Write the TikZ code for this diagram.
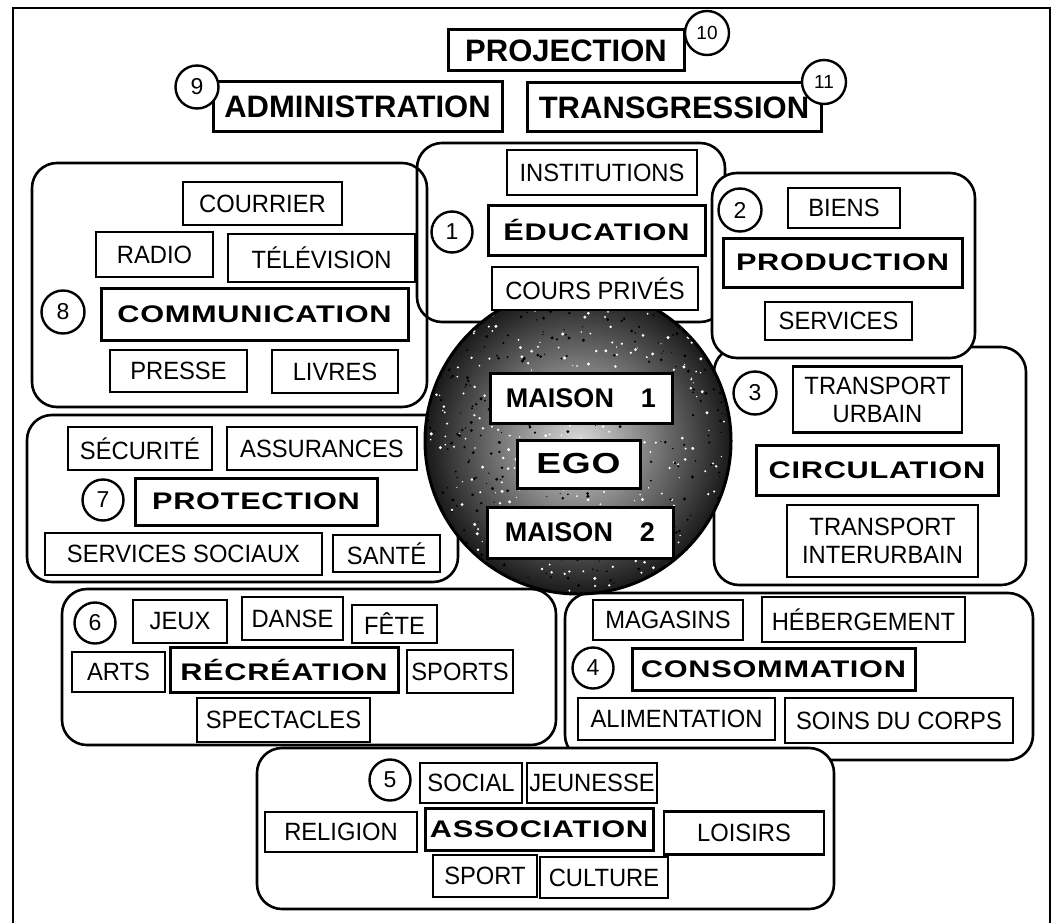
\documentclass[tikz,border=0pt]{standalone}
\usepackage{fontspec}
\setmainfont{Liberation Sans}
\newfontfamily\wide[FakeStretch=1.28, LetterSpace=3]{Liberation Sans}
\newfontfamily\narrow[FakeStretch=0.95]{Liberation Sans}
\usetikzlibrary{positioning}

\begin{document}
\begin{tikzpicture}[x=1pt, y=-1pt,
  zone/.style={draw, line width=2.6pt, rounded corners=25pt},
  lab/.style={draw, line width=2.6pt, fill=white, inner sep=0pt, align=center,
              font=\narrow\fontsize{25}{28}\selectfont},
  ttl/.style={lab, line width=3pt, font=\wide\bfseries\fontsize{24}{24}\selectfont},
  big/.style={lab, line width=3pt, font=\bfseries\fontsize{31}{31}\selectfont},
  house/.style={lab, line width=3pt, font=\bfseries\fontsize{27}{27}\selectfont},
  num/.style={circle, draw, fill=white, line width=2.4pt, inner sep=0pt,
              minimum size=41, font=\fontsize{23}{23}\selectfont},
]
\useasboundingbox (0,0) rectangle (1054,923);
\draw[line width=2.4pt] (13,923) -- (13,8) -- (1050,8) -- (1050,923);

% zones
\draw[zone] (417,143) rectangle (725,322);
\draw[zone] (32,163) rectangle (427,407);
\draw[zone] (27,415) rectangle (458,582);
\draw[zone] (714,347) rectangle (1026,585);
\draw[zone, fill=white] (712,173) rectangle (975,358);
\draw[zone] (62,589) rectangle (556,745);
\draw[zone] (565,593) rectangle (1033,760);
\draw[zone, fill=white] (257,748) rectangle (834,909);

% ego
\shade[inner color=gray!30, outer color=black!90] (578,441) circle (153);
\begin{scope}
  \clip (578,441) circle (153);
  \pgfmathsetseed{42}
  \foreach \i in {1,...,350}
    \fill[white] ({578+150*rand},{441+150*rand}) circle ({0.6+1.1*rnd});
  \foreach \i in {1,...,350}
    \fill[black] ({578+150*rand},{441+150*rand}) circle ({0.6+1.1*rnd});
\end{scope}
\draw[line width=3pt] (578,441) circle (153);
\node[house, minimum width=182, minimum height=50] (m1) at (581,398) {MAISON\hspace{1em}1};
\node[lab, line width=3pt, font=\wide\bfseries\fontsize{29}{29}\selectfont,
      minimum width=123, minimum height=48] (ego) at (578.5,464) {EGO};
\node[house, minimum width=186, minimum height=51] (m2) at (580,532.5) {MAISON\hspace{1em}2};

% top
\node[big, minimum width=236, minimum height=41] (proj) at (566,50.5) {PROJECTION};
\node[big, minimum width=289, minimum height=50] (adm) at (357.5,107) {ADMINISTRATION};
\node[big, minimum width=294, minimum height=49] (trans) at (674,107.5) {TRANSGRESSION};
\node[num, minimum size=43] (n9) at (197,87) {9};
\node[num, minimum size=44, font=\fontsize{19}{19}\selectfont] (n10) at (707,33) {10};
\node[num, minimum size=44, font=\fontsize{19}{19}\selectfont] (n11) at (824,82) {11};

% 1
\node[lab, minimum width=190, minimum height=45] (instit) at (602,172.5) {INSTITUTIONS};
\node[ttl, minimum width=217, minimum height=50] (educ) at (596.5,230) {ÉDUCATION};
\node[lab, minimum width=206, minimum height=43] (cours) at (595,288.5) {COURS PRIVÉS};
\node[num] (n1) at (452,232) {1};

% 2
\node[lab, minimum width=112, minimum height=40] (biens) at (844,208) {BIENS};
\node[ttl, minimum width=239, minimum height=49] (prod) at (842.5,262.5) {PRODUCTION};
\node[lab, minimum width=147, minimum height=38] (serv) at (838.5,321) {SERVICES};
\node[num, minimum size=43] (n2) at (740,210) {2};

% 3
\node[lab, minimum width=169, minimum height=66] (turb) at (877.5,399.5) {TRANSPORT\\URBAIN};
\node[ttl, minimum width=242, minimum height=50] (circ) at (877,470) {CIRCULATION};
\node[lab, minimum width=191, minimum height=72] (tinter) at (882.5,541) {TRANSPORT\\INTERURBAIN};
\node[num, minimum size=43] (n3) at (755,393) {3};

% 4
\node[lab, minimum width=150, minimum height=40] (magas) at (668,620) {MAGASINS};
\node[lab, minimum width=203, minimum height=45] (heberg) at (863.5,619.5) {HÉBERGEMENT};
\node[ttl, minimum width=283, minimum height=42] (conso) at (773.5,669) {CONSOMMATION};
\node[lab, minimum width=197, minimum height=42] (alim) at (676.5,719) {ALIMENTATION};
\node[lab, minimum width=228, minimum height=45] (soins) at (899,720.5) {SOINS DU CORPS};
\node[num] (n4) at (593,668) {4};

% 5
\node[lab, minimum width=102, minimum height=40] (social) at (471,783) {SOCIAL};
\node[lab, minimum width=130, minimum height=40] (jeun) at (592,783) {JEUNESSE};
\node[lab, minimum width=152, minimum height=40] (relig) at (341,832) {RELIGION};
\node[ttl, minimum width=228, minimum height=42] (assoc) at (539,829) {ASSOCIATION};
\node[lab, minimum width=160, minimum height=43] (loisirs) at (744,833) {LOISIRS};
\node[lab, minimum width=104, minimum height=42] (sport) at (485,876) {SPORT};
\node[lab, minimum width=128, minimum height=41] (cult) at (604,877.5) {CULTURE};
\node[num] (n5) at (390,780) {5};

% 6
\node[lab, minimum width=94, minimum height=43] (jeux) at (180,621.5) {JEUX};
\node[lab, minimum width=101, minimum height=43] (danse) at (292.5,618.5) {DANSE};
\node[lab, minimum width=85, minimum height=38] (fete) at (394.5,624) {FÊTE};
\node[lab, minimum width=93, minimum height=40] (arts) at (118.5,672) {ARTS};
\node[ttl, minimum width=228, minimum height=45] (recr) at (284,669.5) {RÉCRÉATION};
\node[lab, minimum width=106, minimum height=43] (sports) at (460,671.5) {SPORTS};
\node[lab, minimum width=173, minimum height=44] (spect) at (283.5,720) {SPECTACLES};
\node[num] (n6) at (95,623) {6};

% 7
\node[lab, minimum width=144, minimum height=43] (secu) at (140,448.5) {SÉCURITÉ};
\node[lab, minimum width=190, minimum height=43] (assur) at (322,448.5) {ASSURANCES};
\node[ttl, minimum width=242, minimum height=47] (prot) at (256,501.5) {PROTECTION};
\node[lab, minimum width=277, minimum height=42] (sso) at (183.5,554) {SERVICES SOCIAUX};
\node[lab, minimum width=107, minimum height=37] (sante) at (386.5,553.5) {SANTÉ};
\node[num] (n7) at (103,500) {7};

% 8
\node[lab, minimum width=159, minimum height=43] (courr) at (262.5,203.5) {COURRIER};
\node[lab, minimum width=117, minimum height=45] (radio) at (154.5,254.5) {RADIO};
\node[lab, minimum width=187, minimum height=48] (tele) at (321.5,258) {TÉLÉVISION};
\node[ttl, minimum width=307, minimum height=52] (comm) at (254.5,314) {COMMUNICATION};
\node[lab, minimum width=137, minimum height=42] (presse) at (178.5,371) {PRESSE};
\node[lab, minimum width=126, minimum height=43] (livres) at (335,371.5) {LIVRES};
\node[num, minimum size=43] (n8) at (63,312) {8};
\end{tikzpicture}
\end{document}
